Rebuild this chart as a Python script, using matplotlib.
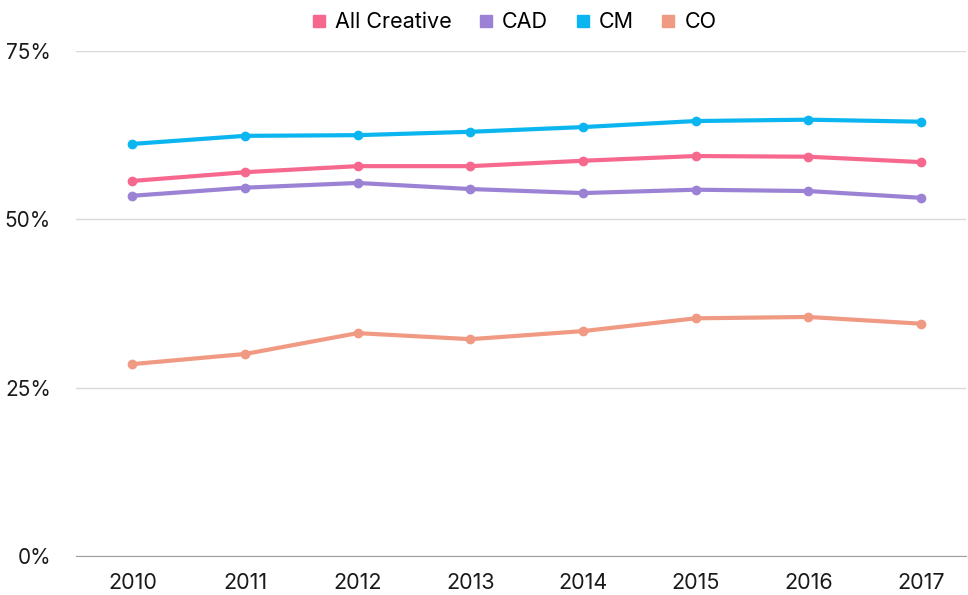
import matplotlib
matplotlib.use("Agg")
import matplotlib.pyplot as plt
from matplotlib.ticker import FuncFormatter

# ---- DATA ----
years = ["2010", "2011", "2012", "2013", "2014", "2015", "2016", "2017"]
all_creative = [55.7, 57.0, 57.9, 57.9, 58.7, 59.4, 59.3, 58.5]
cad = [53.5, 54.7, 55.4, 54.5, 53.9, 54.4, 54.2, 53.2]
cm = [61.2, 62.4, 62.5, 63.0, 63.7, 64.6, 64.8, 64.5]
co = [28.5, 30.0, 33.1, 32.2, 33.4, 35.3, 35.5, 34.5]

series = [
    ("All Creative", all_creative, "#f7688f"),
    ("CAD", cad, "#9b82d4"),
    ("CM", cm, "#0bb5f0"),
    ("CO", co, "#f09a84"),
]

# ---- STYLE ----
plt.rcParams.update({
    "font.family": ["Inter", "DejaVu Sans"],
    "font.size": 15,
})

fig = plt.figure(figsize=(9.68, 5.95), dpi=100)
ax = fig.add_axes([76 / 968, 39 / 595, 890 / 968, 505 / 595])

x = list(range(len(years)))
for name, vals, color in series:
    ax.plot(x, vals, color=color, lw=3, marker="o", ms=6, label=name,
            solid_capstyle="round")

ax.set_ylim(0, 75)
ax.set_xlim(-0.5, 7.4)
ax.set_yticks([0, 25, 50, 75])
ax.yaxis.set_major_formatter(FuncFormatter(lambda v, p: f"{v:.0f}%"))
ax.set_xticks(x)
ax.set_xticklabels(years)
ax.grid(axis="y", color="#d9d9d9", lw=1)
ax.set_axisbelow(True)
for s in ["top", "right", "left"]:
    ax.spines[s].set_visible(False)
ax.spines["bottom"].set_color("#9e9e9e")
ax.tick_params(length=0, colors="#1a1a1a", labelsize=15)
ax.tick_params(axis="x", labelsize=15.5, pad=12)
ax.tick_params(axis="y", pad=18)

handles = [plt.Line2D([], [], marker="s", ls="", color=c, ms=8) for _, _, c in series]
fig.legend(handles, [n for n, _, _ in series], loc="upper center",
           bbox_to_anchor=(0.529, 1.012), ncol=4, frameon=False,
           handlelength=1.0, handletextpad=0.25, columnspacing=1.1,
           fontsize=15.5)

fig.savefig("out.png", dpi=100)
